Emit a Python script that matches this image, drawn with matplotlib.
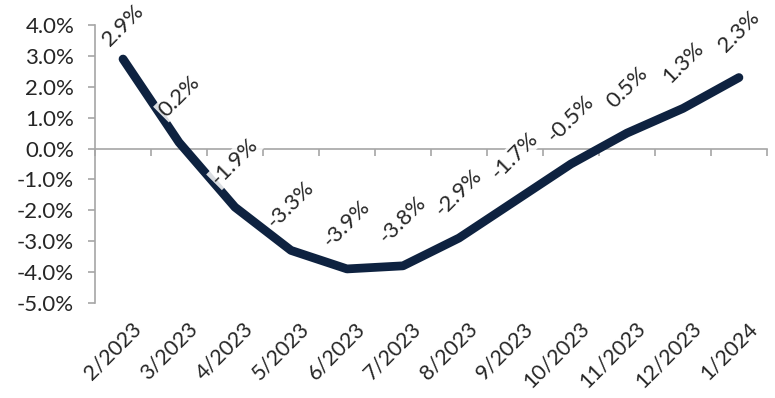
import matplotlib
matplotlib.use("Agg")
import matplotlib.pyplot as plt
import matplotlib.transforms as mtransforms
from matplotlib.ticker import FuncFormatter

months = ["2/2023", "3/2023", "4/2023", "5/2023", "6/2023", "7/2023",
          "8/2023", "9/2023", "10/2023", "11/2023", "12/2023", "1/2024"]
values = [2.9, 0.2, -1.9, -3.3, -3.9, -3.8, -2.9, -1.7, -0.5, 0.5, 1.3, 2.3]

plt.rcParams["font.family"] = ["Lato", "DejaVu Sans"]
txt = "#262626"
axcol = "#a6a6a6"
navy = "#0e2240"
fs = 16

fig = plt.figure(figsize=(7.75, 3.98), dpi=100)
ax = fig.add_axes([0.1226, 0.239, 0.867, 0.698])

x = list(range(len(values)))
ax.plot(x, values, color=navy, linewidth=6.3, solid_capstyle="round", zorder=3)

ax.set_xlim(-0.5, len(values) - 0.5)
ax.set_ylim(-5, 4)
ax.set_yticks(range(-5, 5))
ax.yaxis.set_major_formatter(FuncFormatter(lambda v, p: f"{v:.1f}%"))
ax.tick_params(axis="y", colors=axcol, labelcolor=txt, labelsize=fs, length=5, width=1.2, pad=10)

# x axis crosses at zero, ticks between categories
ax.spines["bottom"].set_position(("data", 0))
ax.spines["bottom"].set_color(axcol)
ax.spines["bottom"].set_linewidth(1.2)
ax.spines["left"].set_color(axcol)
ax.spines["left"].set_linewidth(1.2)
ax.spines["top"].set_visible(False)
ax.spines["right"].set_visible(False)
ax.set_xticks([i - 0.5 for i in range(len(values) + 1)])
ax.set_xticklabels([])
ax.tick_params(axis="x", colors=axcol, length=5, width=1.2, direction="out")

# category labels at the bottom
trans = mtransforms.blended_transform_factory(ax.transData, ax.transAxes)
for i, m in enumerate(months):
    ax.text(i + 0.15, -0.055, m, transform=trans, rotation=45, rotation_mode="anchor",
            ha="right", va="top", fontsize=15.5, color=txt)

# data labels
for i, v in enumerate(values):
    off = 24 if i == 0 else 33
    ax.annotate(f"{v:.1f}%", (i, v), xytext=(0, off), textcoords="offset points",
                rotation=45, ha="center", va="center", fontsize=fs, color=txt, zorder=4,
                bbox=dict(boxstyle="square,pad=0.05", fc="white", ec="none", alpha=0.85),
                annotation_clip=False)

fig.savefig("out.png", dpi=100)
